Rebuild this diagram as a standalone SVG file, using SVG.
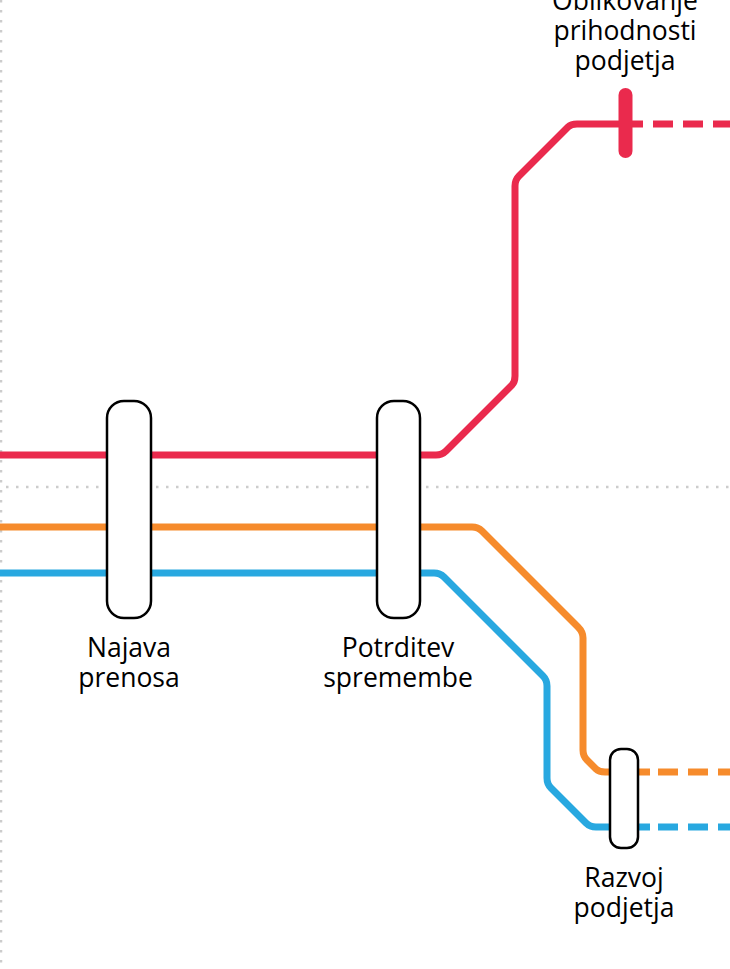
<svg xmlns="http://www.w3.org/2000/svg" width="730" height="969" viewBox="0 0 730 969">
<style>
.grid{stroke:#cccccc;stroke-width:2.5;stroke-dasharray:2.5 7.5;fill:none}
.line{fill:none;stroke-width:7;stroke-linecap:butt;stroke-linejoin:round}
.dash{stroke-dasharray:20 10}
.red{stroke:#EA2A4D}
.orange{stroke:#F68B2C}
.blue{stroke:#28A8E0}
.stn{fill:#fff;stroke:#000;stroke-width:2.5}
.lbl{font-family:"Open Sans","Liberation Sans",sans-serif;font-size:26.5px;fill:#000;text-anchor:middle}
</style>
<rect width="730" height="969" fill="#fff"/>
<g id="grid">
<line class="grid" x1="1" y1="0" x2="1" y2="969"/>
<line class="grid" x1="6" y1="487" x2="730" y2="487"/>
</g>
<g id="connectors">
<path class="line red" d="M-5 455 H436 Q442 455 446 451 L512 385 Q515 382 515 376 V186 Q515 180 519 176 L568 127 Q571 124 577 124 H643"/>
<path class="line red dash" d="M653 124 H740"/>
<path class="line orange" d="M-5 527 H472 Q478 527 482 531 L578 627 Q583 632 583 638 V750 Q583 756 587 760 L596 769 Q599 772 605 772 H650"/>
<path class="line orange dash" d="M658 772 H740"/>
<path class="line blue" d="M-5 573 H434 Q440 573 444 577 L543 676 Q547 680 547 686 V778 Q547 784 551 788 L586 823 Q590 827 596 827 H650"/>
<path class="line blue dash" d="M658 827 H740"/>
</g>
<g id="oblikovanje">
<line x1="625.5" y1="95" x2="625.5" y2="151" stroke="#EA2A4D" stroke-width="14" stroke-linecap="round"/>
<text class="lbl" x="625" y="10">Oblikovanje</text>
<text class="lbl" x="625" y="40">prihodnosti</text>
<text class="lbl" x="625" y="70">podjetja</text>
</g>
<g id="najava">
<rect class="stn" x="107" y="401" width="44" height="217" rx="17"/>
<text class="lbl" x="129" y="657">Najava</text>
<text class="lbl" x="129" y="687">prenosa</text>
</g>
<g id="potrditev">
<rect class="stn" x="377" y="401" width="43" height="217" rx="17"/>
<text class="lbl" x="398" y="657">Potrditev</text>
<text class="lbl" x="398" y="687">spremembe</text>
</g>
<g id="razvoj">
<rect class="stn" x="610" y="749" width="28" height="99" rx="11"/>
<text class="lbl" x="624" y="887">Razvoj</text>
<text class="lbl" x="624" y="917">podjetja</text>
</g>
</svg>
